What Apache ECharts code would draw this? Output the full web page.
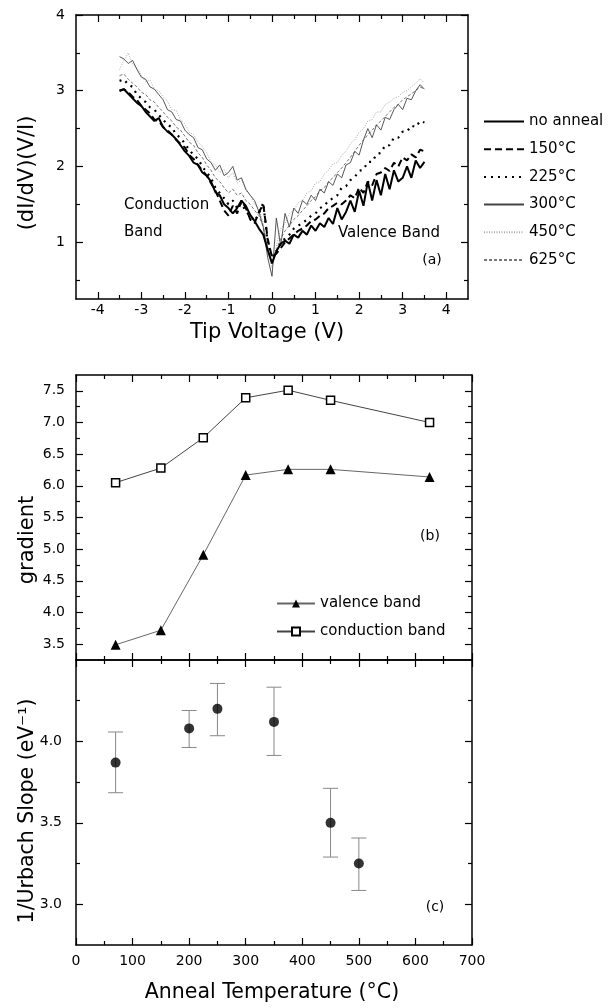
<!DOCTYPE html>
<html><head><meta charset="utf-8">
<script src="https://cdn.jsdelivr.net/npm/echarts@6/dist/echarts.min.js"></script>
<style>html,body{margin:0;padding:0;background:#fff}#c{width:609px;height:1008px}</style>
</head><body><div id="c"></div>
<script>
// ---------- Panel (a): tunnelling spectra ----------
const voltage = [
  -3.5,-3.4,-3.3,-3.2,-3.1,-3.0,-2.9,-2.8,-2.7,-2.6,
  -2.5,-2.4,-2.3,-2.2,-2.1,-2.0,-1.9,-1.8,-1.7,-1.6,
  -1.5,-1.4,-1.3,-1.2,-1.1,-1.0,-0.9,-0.8,-0.7,-0.6,
  -0.5,-0.4,-0.3,-0.2,-0.1,0.0,0.1,0.2,0.3,0.4,
  0.5,0.6,0.7,0.8,0.9,1.0,1.1,1.2,1.3,1.4,
  1.5,1.6,1.7,1.8,1.9,2.0,2.1,2.2,2.3,2.4,
  2.5,2.6,2.7,2.8,2.9,3.0,3.1,3.2,3.3,3.4,
  3.5];
const noAnneal = [
  3.00,3.02,2.96,2.90,2.84,2.80,2.72,2.66,2.60,2.64,
  2.52,2.46,2.42,2.36,2.28,2.20,2.14,2.05,2.02,1.92,
  1.88,1.80,1.66,1.62,1.50,1.45,1.38,1.45,1.55,1.48,
  1.36,1.28,1.18,1.10,0.90,0.72,0.88,0.98,1.02,0.98,
  1.10,1.06,1.15,1.10,1.22,1.15,1.25,1.20,1.32,1.24,
  1.45,1.30,1.40,1.55,1.40,1.68,1.48,1.80,1.55,1.82,
  1.62,1.90,1.70,1.95,1.80,1.85,2.00,1.85,2.08,1.98,
  2.06];
const anneal150 = [
  3.00,3.02,2.98,2.92,2.88,2.80,2.75,2.70,2.62,2.60,
  2.52,2.48,2.42,2.35,2.30,2.25,2.15,2.10,2.02,1.95,
  1.88,1.78,1.68,1.55,1.42,1.35,1.48,1.38,1.55,1.45,
  1.30,1.25,1.40,1.50,1.05,0.80,0.85,0.92,1.00,1.05,
  1.10,1.15,1.18,1.22,1.28,1.30,1.35,1.38,1.45,1.48,
  1.52,1.50,1.55,1.62,1.58,1.72,1.65,1.80,1.75,1.90,
  1.92,1.98,1.94,2.05,2.00,2.12,2.08,2.16,2.12,2.22,
  2.20];
const anneal225 = [
  3.13,3.15,3.08,3.05,2.95,2.90,2.85,2.78,2.75,2.68,
  2.62,2.55,2.52,2.42,2.38,2.30,2.22,2.15,2.10,2.00,
  1.92,1.85,1.72,1.65,1.58,1.50,1.55,1.45,1.52,1.40,
  1.35,1.28,1.38,1.52,1.00,0.82,0.88,0.98,1.05,1.10,
  1.18,1.22,1.25,1.30,1.35,1.38,1.45,1.48,1.55,1.58,
  1.62,1.72,1.74,1.82,1.86,1.94,1.96,2.06,2.06,2.16,
  2.18,2.28,2.28,2.38,2.38,2.46,2.46,2.54,2.52,2.60,
  2.58];
const anneal300 = [
  3.45,3.42,3.36,3.40,3.28,3.18,3.15,3.05,3.02,2.95,
  2.88,2.75,2.72,2.62,2.60,2.48,2.42,2.38,2.25,2.22,
  2.10,2.05,1.95,2.02,1.88,1.92,2.00,1.82,1.85,1.70,
  1.62,1.55,1.40,1.20,0.80,0.55,1.32,0.95,1.38,1.20,
  1.45,1.38,1.55,1.50,1.62,1.55,1.70,1.65,1.80,1.75,
  1.90,1.85,2.02,2.05,2.20,2.15,2.35,2.50,2.38,2.55,
  2.48,2.65,2.62,2.75,2.82,2.75,2.90,2.88,3.00,3.08,
  3.02];
const anneal450 = [
  3.28,3.40,3.50,3.35,3.30,3.20,3.12,3.14,3.02,3.00,
  2.92,2.86,2.75,2.74,2.62,2.56,2.45,2.42,2.32,2.26,
  2.18,2.06,2.02,1.92,1.96,1.85,1.92,1.78,1.82,1.68,
  1.62,1.50,1.44,1.25,0.95,0.66,0.95,1.18,1.25,1.38,
  1.42,1.52,1.55,1.65,1.68,1.78,1.80,1.90,1.95,2.04,
  2.05,2.15,2.20,2.30,2.35,2.45,2.50,2.60,2.62,2.72,
  2.72,2.82,2.85,2.90,2.92,2.98,3.00,3.05,3.10,3.16,
  3.10];
const anneal625 = [
  3.20,3.22,3.15,3.10,3.05,2.98,2.95,2.88,2.85,2.78,
  2.72,2.65,2.60,2.52,2.48,2.40,2.32,2.28,2.18,2.12,
  2.02,1.95,1.85,1.80,1.72,1.65,1.70,1.62,1.65,1.55,
  1.50,1.42,1.35,1.20,0.95,0.72,0.90,1.05,1.15,1.22,
  1.30,1.35,1.42,1.48,1.55,1.60,1.68,1.72,1.80,1.85,
  1.92,1.98,2.05,2.12,2.20,2.28,2.35,2.42,2.48,2.55,
  2.60,2.66,2.72,2.78,2.82,2.88,2.92,2.96,3.00,3.05,
  3.02];
const spectraNames = ['no anneal','150°C','225°C','300°C','450°C','625°C'];
const voltMajorTicks = [-4,-3,-2,-1,0,1,2,3,4];
const voltMinorTicks = [-3.5,-2.5,-1.5,-0.5,0.5,1.5,2.5,3.5];
const ratioMajorTicks = [1,2,3,4];
const ratioMinorTicks = [0.5,1.5,2.5,3.5];

// ---------- Panel (b): gradients ----------
const annealTemps = [70,150,225,300,375,450,625];
const valenceBand = [3.49,3.72,4.91,6.17,6.26,6.26,6.14];
const conductionBand = [6.05,6.28,6.76,7.39,7.51,7.35,7.00];
const gradMajorTicks = [3.5,4.0,4.5,5.0,5.5,6.0,6.5,7.0,7.5];
const gradMinorTicks = [3.75,4.25,4.75,5.25,5.75,6.25,6.75,7.25];

// ---------- Panel (c): Urbach slope ----------
const urbachTemps = [70,200,250,350,450,500];
const urbachValues = [3.87,4.08,4.20,4.12,3.50,3.25];
const urbachLow = [3.685,3.963,4.035,3.914,3.29,3.085];
const urbachHigh = [4.058,4.19,4.356,4.333,3.712,3.407];
const urbMajorTicks = [3.0,3.5,4.0];
const urbMinorTicks = [3.25,3.75,4.25];
const tempMajorTicks = [0,100,200,300,400,500,600,700];
const tempMinorTicks = [50,150,250,350,450,550,650];

const FONT = 'DejaVu Sans';
const xAxes = [], yAxes = [];
function addAxes(list, grid, dim, min, max, majors, minors, labels, fmt, margin) {
  const sides = dim === 'x' ? ['bottom','top'] : ['left','right'];
  let primary = 0;
  sides.forEach((pos, s) => {
    const base = {type:'value', gridIndex:grid, position:pos, min:min, max:max, splitLine:{show:false}};
    list.push(Object.assign({}, base, {
      axisLine:{show:true, onZero:false, lineStyle:{color:'#000', width:1.5}},
      axisTick:{show:true, inside:true, length:7, customValues:majors, lineStyle:{color:'#000', width:1.2}},
      axisLabel: (s === 0 && labels.length) ? {show:true, customValues:labels, formatter:fmt, margin:margin,
        fontFamily:FONT, fontSize:14, color:'#000'} : {show:false}
    }));
    if (s === 0) primary = list.length - 1;
    list.push(Object.assign({}, base, {
      axisLine:{show:false, onZero:false},
      axisTick:{show:true, inside:true, length:4, customValues:minors, lineStyle:{color:'#000', width:1.2}},
      axisLabel:{show:false}
    }));
  });
  return primary;
}
const f0 = v => String(Math.round(v));
const f1 = v => Number(v).toFixed(1);

const ax = addAxes(xAxes, 0, 'x', -4.5, 4.5, voltMajorTicks, voltMinorTicks, voltMajorTicks, f0, 4);
const ay = addAxes(yAxes, 0, 'y', 0.25, 4, ratioMajorTicks, ratioMinorTicks, ratioMajorTicks, f0, 11);
const bx = addAxes(xAxes, 1, 'x', 0, 700, tempMajorTicks, tempMinorTicks, [], f0, 9);
const by = addAxes(yAxes, 1, 'y', 3.25, 7.75, gradMajorTicks, gradMinorTicks, gradMajorTicks, f1, 11);
const cx = addAxes(xAxes, 2, 'x', 0, 700, tempMajorTicks, tempMinorTicks, tempMajorTicks, f0, 9);
const cy = addAxes(yAxes, 2, 'y', 2.75, 4.5, urbMajorTicks, urbMinorTicks, urbMajorTicks, f1, 14);

function spectrum(name, arr, color, width, type) {
  return {name:name, type:'line', xAxisIndex:ax, yAxisIndex:ay, symbol:'none', smooth:false,
    data: voltage.map((v,i)=>[v, arr[i]]),
    lineStyle:{color:color, width:width, type:type}, itemStyle:{color:color}};
}

const series = [
  spectrum('625°C', anneal625, '#777', 1, [3,2]),
  spectrum('450°C', anneal450, '#aaa', 1, [1,1.5]),
  spectrum('300°C', anneal300, '#444', 0.9, 'solid'),
  spectrum('225°C', anneal225, '#000', 2.2, [2,5]),
  spectrum('150°C', anneal150, '#000', 2, [7,4]),
  spectrum('no anneal', noAnneal, '#000', 2, 'solid'),
  {name:'valence band', type:'line', xAxisIndex:bx, yAxisIndex:by,
    data: annealTemps.map((t,i)=>[t, valenceBand[i]]), symbol:'triangle', symbolSize:10,
    lineStyle:{color:'#666', width:1}, itemStyle:{color:'#000'}},
  {name:'conduction band', type:'line', xAxisIndex:bx, yAxisIndex:by,
    data: annealTemps.map((t,i)=>[t, conductionBand[i]]), symbol:'rect', symbolSize:8,
    lineStyle:{color:'#444', width:1}, itemStyle:{color:'#fff', borderColor:'#000', borderWidth:1.5}},
  {type:'custom', xAxisIndex:cx, yAxisIndex:cy, z:1,
    data: urbachTemps.map((t,i)=>[t, urbachLow[i], urbachHigh[i]]),
    encode:{x:0, y:[1,2]},
    renderItem: function(params, api) {
      const x = api.value(0);
      const pLo = api.coord([x, api.value(1)]);
      const pHi = api.coord([x, api.value(2)]);
      const w = 7.5;
      const st = {stroke:'#888', lineWidth:1};
      return {type:'group', children:[
        {type:'line', shape:{x1:pHi[0], y1:pHi[1], x2:pLo[0], y2:pLo[1]}, style:st},
        {type:'line', shape:{x1:pHi[0]-w, y1:pHi[1], x2:pHi[0]+w, y2:pHi[1]}, style:st},
        {type:'line', shape:{x1:pLo[0]-w, y1:pLo[1], x2:pLo[0]+w, y2:pLo[1]}, style:st}
      ]};
    }},
  {type:'scatter', xAxisIndex:cx, yAxisIndex:cy, z:3, symbol:'circle', symbolSize:10,
    data: urbachTemps.map((t,i)=>[t, urbachValues[i]]), itemStyle:{color:'#000'}}
];

function txt(text, x, y, size, align, rot) {
  return {type:'text', x:x, y:y, rotation:rot||0, silent:true,
    style:{text:text, x:0, y:0, fontFamily:FONT, fontSize:size, fill:'#000',
      textAlign:align||'left', textVerticalAlign:'middle'}};
}

const option = {
  animation:false,
  backgroundColor:'#fff',
  grid:[
    {left:76, top:15, width:392, height:284},
    {left:76, top:375, width:396, height:285},
    {left:76, top:660, width:396, height:285}
  ],
  xAxis:xAxes, yAxis:yAxes,
  legend:[
    {data:spectraNames, orient:'vertical', left:478, top:109, itemWidth:40, itemHeight:14, itemGap:12.7,
      selectedMode:false, itemStyle:{opacity:0}, textStyle:{fontFamily:FONT, fontSize:15, color:'#000'}},
    {data:['valence band','conduction band'], orient:'vertical', left:271, top:591, itemWidth:38, itemHeight:10, itemGap:13,
      selectedMode:false, textStyle:{fontFamily:FONT, fontSize:15, color:'#000'}}
  ],
  graphic:[
    txt('Conduction', 124, 205, 15),
    txt('Band', 124, 232, 15),
    txt('Valence Band', 338, 233, 15),
    txt('(a)', 432, 260, 14, 'center'),
    txt('(b)', 430, 536, 14, 'center'),
    txt('(c)', 435, 907, 14, 'center'),
    txt('Tip Voltage (V)', 267, 333, 21, 'center'),
    txt('Anneal Temperature (°C)', 272, 993, 20.5, 'center'),
    txt('(dI/dV)(V/I)', 28, 173, 21, 'center', Math.PI/2),
    txt('gradient', 28, 540, 21, 'center', Math.PI/2),
    txt('1/Urbach Slope (eV\u207B\u00B9)', 28, 811, 20.5, 'center', Math.PI/2)
  ],
  series:series
};
const chart = echarts.init(document.getElementById('c'), null, {renderer:'canvas', width:609, height:1008});
chart.setOption(option);
</script>
</body></html>
